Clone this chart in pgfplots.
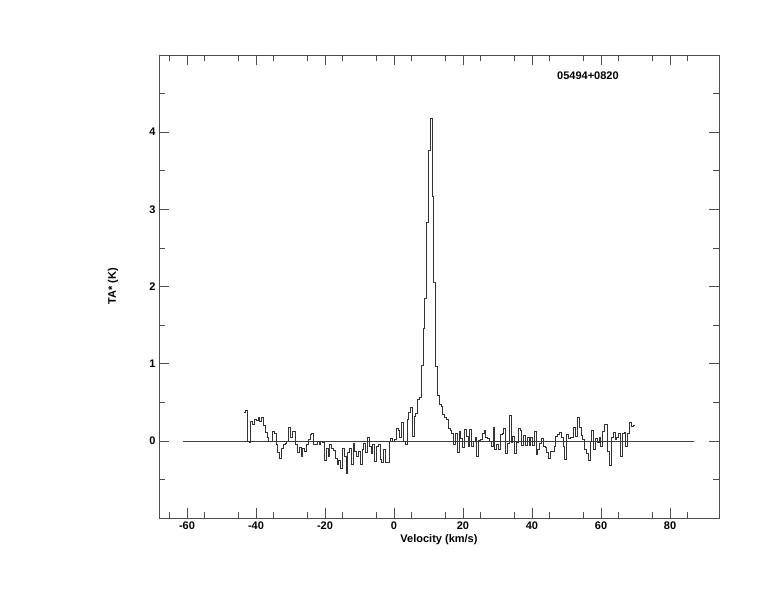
\documentclass[border=0pt]{standalone}
\usepackage{pgfplots}
\pgfplotsset{compat=1.18}
\usepackage{fontspec}
\setmainfont{Liberation Sans}
\begin{document}
\begin{tikzpicture}
\useasboundingbox (0,0) rectangle (774pt,612pt);
\begin{axis}[
  at={(159pt,94pt)}, anchor=south west,
  width=560pt, height=463pt, scale only axis,
  xmin=-68.1, xmax=94.2, ymin=-1, ymax=5,
  xtick={-60,-40,...,80}, minor xtick={-65,-55,...,90},
  ytick={0,1,2,3,4}, minor ytick={-0.5,0.5,1.5,2.5,3.5,4.5},
  tick align=inside,
  major tick length=10pt, minor tick length=6pt,
  axis line style={black!70, line width=0.6pt},
  every tick/.style={black!70, line width=0.6pt},
  /pgf/number format/assume math mode=true,
  ticklabel style={font=\fontsize{11}{13}\selectfont\bfseries},
  xlabel={Velocity (km/s)},
  ylabel={TA* (K)},
  label style={font=\fontsize{11}{13}\selectfont\bfseries},
  xlabel style={at={(axis description cs:0.5,-0.047)}, anchor=center},
  ylabel style={at={(axis description cs:-0.082,0.5)}, anchor=center},
  clip=false,
]
\addplot[black!75, line width=0.5pt] coordinates {(-61.2,0) (87.0,0)};
\addplot[const plot, black!80, line width=0.6pt] table {
x y
-43.60 0.37
-43.08 0.39
-42.56 0.0
-42.04 -0.02
-41.52 0.25
-41.00 0.22
-40.48 0.28
-39.96 0.27
-39.44 0.30
-38.92 0.25
-38.40 0.30
-37.88 0.20
-37.36 0.11
-36.84 0.05
-36.32 0.0
-35.80 0.0
-35.28 0.12
-34.76 0.10
-34.24 -0.05
-33.72 -0.15
-33.20 -0.23
-32.68 -0.10
-32.16 -0.05
-31.64 -0.03
-31.12 0.0
-30.60 0.18
-30.08 0.05
-29.56 0.12
-29.04 0.12
-28.52 -0.05
-28.00 -0.15
-27.48 -0.08
-26.96 -0.20
-26.44 -0.10
-25.92 -0.13
-25.40 -0.05
-24.88 0.02
-24.36 0.08
-23.84 0.10
-23.32 -0.05
-22.80 -0.05
-22.28 0.0
-21.76 -0.04
-21.24 0.0
-20.72 -0.02
-20.20 -0.25
-19.68 -0.10
-19.16 -0.20
-18.64 -0.05
-18.12 -0.10
-17.60 -0.12
-17.08 -0.22
-16.56 -0.30
-16.04 -0.25
-15.52 -0.35
-15.00 -0.10
-14.48 -0.20
-13.96 -0.42
-13.44 -0.15
-12.92 -0.10
-12.40 -0.30
-11.88 -0.03
-11.36 -0.13
-10.84 -0.20
-10.32 -0.13
-9.80 -0.31
-9.28 -0.11
-8.76 -0.03
-8.24 -0.15
-7.72 0.05
-7.20 -0.07
-6.68 -0.16
-6.16 -0.05
-5.64 -0.26
-5.12 -0.07
-4.60 -0.05
-4.08 -0.24
-3.56 -0.28
-3.04 -0.11
-2.52 -0.28
-2.00 -0.28
-1.48 0.0
-0.96 0.03
-0.44 0.0
0.08 0.02
0.60 0.16
1.12 0.13
1.64 0.04
2.16 0.24
2.68 0.0
3.20 -0.05
3.72 0.28
4.24 0.37
4.76 0.43
5.28 0.06
5.80 0.32
6.32 0.36
6.84 0.54
7.36 0.56
7.88 0.98
8.40 1.46
8.92 1.85
9.44 2.83
9.96 3.77
10.48 4.18
11.00 3.17
11.52 2.05
12.04 0.96
12.56 0.59
13.08 0.47
13.60 0.45
14.12 0.34
14.64 0.30
15.16 0.28
15.68 0.16
16.20 0.13
16.72 0.10
17.24 -0.05
17.76 0.10
18.28 -0.15
18.80 0.12
19.32 0.03
19.84 -0.09
20.36 0.15
20.88 0.06
21.40 -0.07
21.92 0.15
22.44 -0.07
22.96 0.0
23.48 0.05
24.00 -0.20
24.52 0.01
25.04 0.02
25.56 0.10
26.08 0.14
26.60 0.04
27.12 0.03
27.64 0.0
28.16 -0.07
28.68 0.18
29.20 -0.11
29.72 -0.05
30.24 -0.11
30.76 0.08
31.28 0.10
31.80 0.16
32.32 -0.16
32.84 -0.03
33.36 0.33
33.88 -0.02
34.40 0.06
34.92 -0.16
35.44 -0.02
35.96 0.16
36.48 0.14
37.00 -0.06
37.52 0.07
38.04 -0.06
38.56 0.05
39.08 -0.06
39.60 0.05
40.12 -0.06
40.64 0.12
41.16 -0.18
41.68 -0.11
42.20 -0.03
42.72 0.03
43.24 -0.07
43.76 -0.09
44.28 -0.15
44.80 -0.22
45.32 -0.13
45.84 -0.13
46.36 -0.07
46.88 0.06
47.40 0.08
47.92 0.11
48.44 0.04
48.96 -0.07
49.48 -0.24
50.00 0.08
50.52 0.03
51.04 0.04
51.56 0.05
52.08 0.18
52.60 0.06
53.12 0.31
53.64 0.18
54.16 0.07
54.68 0.02
55.20 -0.11
55.72 -0.16
56.24 -0.25
56.76 0.0
57.28 0.14
57.80 -0.11
58.32 0.03
58.84 -0.02
59.36 0.05
59.88 -0.07
60.40 0.12
60.92 0.21
61.44 0.22
61.96 -0.13
62.48 -0.32
63.00 0.04
63.52 0.11
64.04 0.02
64.56 0.04
65.08 0.10
65.60 -0.20
66.12 0.10
66.64 0.11
67.16 -0.07
67.68 0.10
68.20 0.24
68.72 0.19
69.24 0.20
69.76 0.20
};
\node[font=\fontsize{11}{13}\selectfont\bfseries] at (axis description cs:0.766,0.955) {05494+0820};
\end{axis}
\end{tikzpicture}
\end{document}
